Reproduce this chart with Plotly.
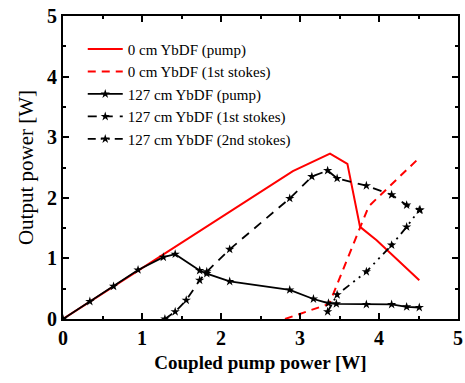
import plotly.graph_objects as go

# 0 cm YbDF
x0_pump = [0, 2.91, 3.38, 3.60, 3.76, 3.97, 4.51]
y0_pump = [0, 2.44, 2.73, 2.56, 1.52, 1.30, 0.64]
x0_s1 = [2.81, 3.37, 3.87, 4.51]
y0_s1 = [0, 0.25, 1.86, 2.66]

# 127 cm YbDF
x127_pump = [0, 0.34, 0.64, 0.95, 1.27, 1.42, 1.73, 1.82, 2.11, 2.87, 3.17, 3.36, 3.46, 3.84, 4.16, 4.35, 4.51]
y127_pump = [0, 0.29, 0.54, 0.81, 1.02, 1.07, 0.80, 0.75, 0.62, 0.48, 0.33, 0.26, 0.25, 0.24, 0.24, 0.20, 0.19]
x127_s1 = [1.29, 1.42, 1.56, 1.73, 1.82, 2.11, 2.87, 3.15, 3.35, 3.47, 3.84, 4.16, 4.35, 4.52]
y127_s1 = [0, 0.12, 0.31, 0.64, 0.78, 1.15, 1.99, 2.35, 2.45, 2.32, 2.20, 2.05, 1.88, 1.80]
x127_s2 = [3.35, 3.47, 3.84, 4.16, 4.35, 4.51]
y127_s2 = [0.12, 0.40, 0.78, 1.22, 1.52, 1.80]

red = "#ff0000"
star = dict(symbol="star", size=7, color="black")

fig = go.Figure()
fig.add_trace(go.Scatter(x=x0_pump, y=y0_pump, mode="lines", name="0 cm YbDF (pump)",
                         line=dict(color=red, width=2)))
fig.add_trace(go.Scatter(x=x0_s1, y=y0_s1, mode="lines", name="0 cm YbDF (1st stokes)",
                         line=dict(color=red, width=2, dash="8px,6px")))
fig.add_trace(go.Scatter(x=x127_pump, y=y127_pump, mode="lines+markers", name="127 cm YbDF (pump)",
                         line=dict(color="black", width=1.8), marker=star))
fig.add_trace(go.Scatter(x=x127_s1, y=y127_s1, mode="lines+markers", name="127 cm YbDF (1st stokes)",
                         line=dict(color="black", width=1.8, dash="9px,7px"), marker=star))
fig.add_trace(go.Scatter(x=x127_s2, y=y127_s2, mode="lines+markers", name="127 cm YbDF (2nd stokes)",
                         line=dict(color="black", width=1.8, dash="8px,5px,2px,5px,2px,5px"), marker=star))

axis_common = dict(
    showgrid=False, zeroline=False, showline=True, linecolor="black", linewidth=2,
    mirror="allticks", ticks="inside", ticklen=6, tickwidth=1.5, tickcolor="black",
    minor=dict(ticks="inside", ticklen=3, tickwidth=1.5, tickcolor="black", dtick=0.5),
    tickfont=dict(family="Liberation Serif", size=20, color="black", weight="bold"),
    automargin=False,
)

fig.update_xaxes(range=[0, 5], dtick=1, tick0=0,
                 title=dict(text="Coupled pump power [W]", standoff=8,
                            font=dict(family="Liberation Serif", size=19, color="black", weight="bold")),
                 **axis_common)
fig.update_yaxes(range=[0, 5], dtick=1, tick0=0,
                 title=dict(text="Output power [W]", standoff=8,
                            font=dict(family="Liberation Serif", size=21, color="black")),
                 **axis_common)

fig.update_layout(
    width=465, height=383,
    margin=dict(l=63, r=7, t=16, b=64),
    plot_bgcolor="white", paper_bgcolor="white",
    showlegend=True,
    legend=dict(x=0.05, y=0.945, xanchor="left", yanchor="top",
                bgcolor="rgba(0,0,0,0)", borderwidth=0,
                font=dict(family="Liberation Serif", size=15, color="black"),
                tracegroupgap=0, itemwidth=35),
)

fig.write_html("out.html", config={"displayModeBar": False},
               post_script="document.body.style.margin='0px';document.body.style.overflow='hidden';")
